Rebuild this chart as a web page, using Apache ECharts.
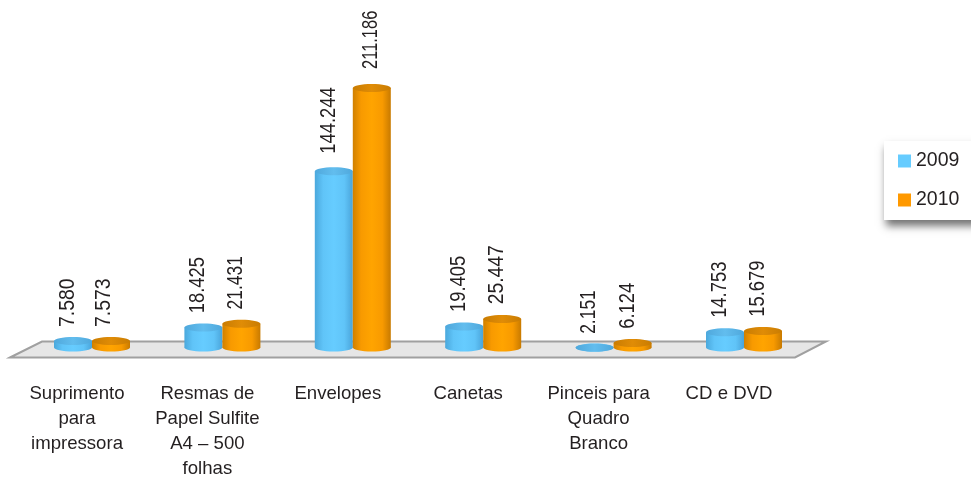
<!DOCTYPE html>
<html><head><meta charset="utf-8">
<style>html,body{margin:0;padding:0;background:#fff}#c{width:971px;height:481px}</style>
<script src="https://cdn.jsdelivr.net/npm/echarts@6/dist/echarts.min.js"></script>
</head><body><div id="c"></div>
<script>
var categories = ['Suprimento\npara\nimpressora','Resmas de\nPapel Sulfite\nA4 – 500\nfolhas','Envelopes','Canetas','Pinceis para\nQuadro\nBranco','CD e DVD'];
var values2009 = [7580,18425,144244,19405,2151,14753];
var values2010 = [7573,21431,211186,25447,6124,15679];
var FONT = '"Liberation Sans",sans-serif';
var TEXT = '#231f20';
var RY = 4, BAR = 38;

function fmt(v){ return String(v).replace(/\B(?=(\d{3})+$)/g,'.'); }

function cylinder(side, colors, topColors, labelDx){
  return function(params, api){
    var p = api.coord([api.value(0), api.value(1)]);
    var z = api.coord([api.value(0), 0]);
    var x0 = side < 0 ? p[0] - BAR : p[0];
    var cx = x0 + BAR / 2, rx = BAR / 2;
    var yBase = z[1] - 2.5, yTop = p[1] + 0.5;
    var h = yBase - yTop;
    var txt = fmt(api.value(1));
    // the reference face has narrow "1" digits: condense labels accordingly
    var ones = txt.split('1').length - 1;
    var grad = new echarts.graphic.LinearGradient(0,0,1,0,[
      {offset:0,color:colors[0]},{offset:.22,color:colors[1]},{offset:.5,color:colors[2]},{offset:.78,color:colors[1]},{offset:1,color:colors[3]}]);
    var topGrad = new echarts.graphic.LinearGradient(0,0,1,0,[
      {offset:0,color:topColors[0]},{offset:.5,color:topColors[1]},{offset:1,color:topColors[0]}]);
    return {type:'group',children:[
      {type:'ellipse',shape:{cx:cx,cy:yBase,rx:rx,ry:RY},style:{fill:grad}},
      {type:'rect',shape:{x:x0,y:yTop,width:BAR,height:Math.max(h,0)},style:{fill:grad}},
      {type:'ellipse',shape:{cx:cx,cy:yTop,rx:rx,ry:RY},style:{fill:topGrad}},
      {type:'text',x:cx+labelDx[params.dataIndex],y:yTop-14-h*0.02,rotation:Math.PI/2,scaleX:.86*(1-.05*ones),style:{
        text:txt,font:'22.5px '+FONT,fill:TEXT,textAlign:'left',textVerticalAlign:'middle'}}
    ]};
  };
}
function rows(a){ return a.map(function(v,i){return [i,v];}); }

var chart = echarts.init(document.getElementById('c'),null,{renderer:'canvas'});
chart.setOption({
  animation:false,
  backgroundColor:'#fff',
  grid:{left:26.8,width:782.4,top:39.4,height:312},
  xAxis:{type:'category',data:categories,axisLine:{show:false},axisTick:{show:false},
    axisLabel:{interval:0,margin:31,color:TEXT,fontFamily:FONT,fontSize:18.6,lineHeight:25,padding:[0,30,0,0],align:'center'}},
  yAxis:{type:'value',min:0,max:250000,show:false,splitLine:{show:false}},
  legend:{orient:'vertical',left:884,top:141,padding:[10,30,10,14],itemGap:19,itemWidth:13,itemHeight:13,icon:'rect',
    backgroundColor:'#fff',shadowColor:'rgba(0,0,0,.55)',shadowBlur:8,shadowOffsetX:2,shadowOffsetY:6,
    textStyle:{color:TEXT,fontFamily:FONT,fontSize:19.5},data:['2009','2010']},
  graphic:[{type:'polygon',z:0,shape:{points:[[10,357.5],[42,341.5],[826,341.5],[795,357.5]]},
    style:{fill:'#e6e6e6',stroke:'#a0a0a0',lineWidth:2}}],
  series:[
    {name:'2009',type:'custom',data:rows(values2009),encode:{x:0,y:1},itemStyle:{color:'#66ccff'},
      renderItem:cylinder(-1,['#4aa8dc','#60c4f8','#66ccff','#4aa4da'],['#4fa8dc','#62bdee'],[-5.5,-5.5,-5.5,-5.5,-5.5,-5.5])},
    {name:'2010',type:'custom',data:rows(values2010),encode:{x:0,y:1},itemStyle:{color:'#ff9900'},
      renderItem:cylinder(1,['#d08000','#f89a00','#ffa400','#c87a00'],['#c97c02','#e08c06'],[-7,-6,-1,-5,-5,-5])}
  ]
});
</script></body></html>
